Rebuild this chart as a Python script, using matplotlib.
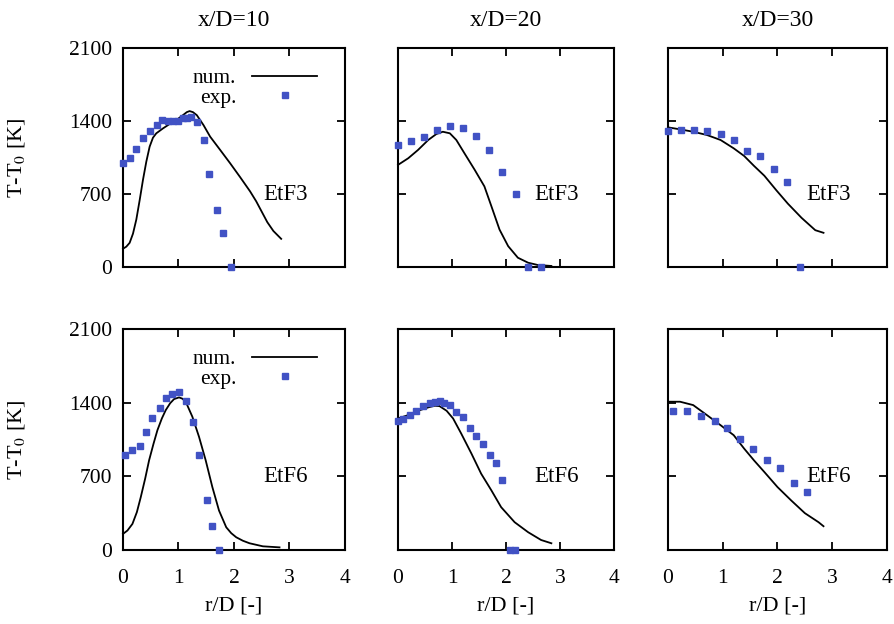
import numpy as np
import matplotlib
matplotlib.use("Agg")
import matplotlib.pyplot as plt

# ── dados ─────────────────────────────────────────────────────────────────────
TITULOS = ["x/D=10", "x/D=20", "x/D=30"]
CASOS = ["EtF3", "EtF6"]

# EtF3, x/D=10
exp_r_3_10 = [0.0, 0.13, 0.24, 0.36, 0.49, 0.61, 0.71, 0.81, 0.90, 0.99, 1.08, 1.16, 1.22, 1.34, 1.46, 1.55, 1.69, 1.81, 1.94]
exp_T_3_10 = [996, 1050, 1129, 1234, 1307, 1361, 1409, 1400, 1400, 1400, 1425, 1431, 1434, 1393, 1218, 894, 544, 328, 0]
num_r_3_10 = [0.0, 0.06, 0.12, 0.18, 0.24, 0.30, 0.36, 0.42, 0.48, 0.54, 0.60, 0.72, 0.84, 0.96, 1.08, 1.15, 1.20, 1.26, 1.33, 1.45, 1.57, 1.75, 1.93, 2.11, 2.29, 2.40, 2.50, 2.60, 2.71, 2.85]
num_T_3_10 = [175, 195, 232, 320, 455, 640, 836, 1010, 1154, 1240, 1282, 1329, 1371, 1409, 1456, 1485, 1495, 1485, 1456, 1361, 1250, 1123, 995, 862, 725, 630, 530, 430, 345, 270]

# EtF3, x/D=20
exp_r_3_20 = [0.0, 0.235, 0.48, 0.72, 0.96, 1.2, 1.45, 1.69, 1.93, 2.18, 2.41, 2.65]
exp_T_3_20 = [1170, 1208, 1250, 1313, 1351, 1335, 1259, 1122, 909, 703, 0, 0]
num_r_3_20 = [0.0, 0.19, 0.37, 0.56, 0.71, 0.83, 0.96, 1.08, 1.23, 1.42, 1.60, 1.73, 1.88, 2.04, 2.22, 2.41, 2.59, 2.84]
num_T_3_20 = [979, 1043, 1122, 1218, 1275, 1297, 1282, 1218, 1091, 932, 773, 582, 359, 200, 89, 41, 19, 10]

# EtF3, x/D=30
exp_r_3_30 = [0.0, 0.235, 0.48, 0.72, 0.97, 1.2, 1.45, 1.68, 1.94, 2.17, 2.42]
exp_T_3_30 = [1304, 1313, 1313, 1307, 1272, 1218, 1116, 1068, 938, 811, 0]
num_r_3_30 = [0.0, 0.22, 0.46, 0.71, 0.96, 1.20, 1.39, 1.57, 1.76, 1.98, 2.19, 2.44, 2.69, 2.84]
num_T_3_30 = [1339, 1320, 1297, 1266, 1218, 1138, 1065, 970, 875, 735, 607, 471, 353, 328]

# EtF6, x/D=10
exp_r_6_10 = [0.03, 0.17, 0.30, 0.41, 0.53, 0.66, 0.77, 0.89, 1.01, 1.14, 1.27, 1.37, 1.51, 1.61, 1.73]
exp_T_6_10 = [906, 948, 992, 1123, 1250, 1345, 1441, 1482, 1504, 1418, 1218, 900, 471, 232, 0]
num_r_6_10 = [0.0, 0.08, 0.17, 0.25, 0.32, 0.40, 0.47, 0.55, 0.62, 0.70, 0.77, 0.85, 0.92, 1.01, 1.07, 1.13, 1.25, 1.37, 1.49, 1.61, 1.73, 1.86, 1.95, 2.04, 2.16, 2.28, 2.52, 2.82]
num_T_6_10 = [153, 185, 248, 360, 502, 680, 852, 1010, 1138, 1250, 1329, 1395, 1434, 1450, 1438, 1409, 1266, 1075, 852, 598, 375, 216, 160, 121, 88, 64, 35, 25]

# EtF6, x/D=20
exp_r_6_20 = [0.0, 0.09, 0.22, 0.34, 0.46, 0.59, 0.68, 0.77, 0.86, 0.96, 1.08, 1.2, 1.33, 1.45, 1.57, 1.7, 1.81, 1.93, 2.07, 2.17]
exp_T_6_20 = [1224, 1247, 1282, 1323, 1367, 1393, 1409, 1412, 1399, 1377, 1313, 1266, 1164, 1081, 1011, 900, 827, 668, 0, 0]
num_r_6_20 = [0.0, 0.19, 0.37, 0.56, 0.68, 0.77, 0.90, 1.02, 1.17, 1.36, 1.54, 1.73, 1.91, 2.16, 2.41, 2.65, 2.84]
num_T_6_20 = [1250, 1282, 1323, 1355, 1371, 1367, 1323, 1250, 1107, 916, 725, 566, 407, 264, 169, 95, 64]

# EtF6, x/D=30
exp_r_6_30 = [0.1, 0.35, 0.6, 0.85, 1.08, 1.31, 1.56, 1.81, 2.05, 2.3, 2.53]
exp_T_6_30 = [1320, 1320, 1272, 1224, 1161, 1059, 957, 859, 779, 636, 550]
num_r_6_30 = [0.0, 0.22, 0.46, 0.71, 0.96, 1.20, 1.39, 1.57, 1.76, 2.00, 2.25, 2.50, 2.75, 2.84]
num_T_6_30 = [1409, 1409, 1377, 1282, 1186, 1091, 964, 852, 741, 598, 471, 350, 264, 226]

PAINEIS = [
    [(num_r_3_10, num_T_3_10, exp_r_3_10, exp_T_3_10),
     (num_r_3_20, num_T_3_20, exp_r_3_20, exp_T_3_20),
     (num_r_3_30, num_T_3_30, exp_r_3_30, exp_T_3_30)],
    [(num_r_6_10, num_T_6_10, exp_r_6_10, exp_T_6_10),
     (num_r_6_20, num_T_6_20, exp_r_6_20, exp_T_6_20),
     (num_r_6_30, num_T_6_30, exp_r_6_30, exp_T_6_30)],
]

# ── estilo ────────────────────────────────────────────────────────────────────
plt.rcParams['font.family'] = ['Liberation Serif', 'DejaVu Serif']
plt.rcParams['mathtext.fontset'] = 'stix'
AZUL = '#4152c4'
FS_TICK = 15.5
FS_LAB = 16
FS_TIT = 17
FS_CASO = 16.5
FS_LEG = 15.5

fig = plt.figure(figsize=(8.95, 6.24), dpi=100)
W_PX, H_PX = 895, 624
COLS = [(123, 345), (398, 614), (668, 887)]
ROWS = [(48, 267), (329, 550)]

for i, (y0, y1) in enumerate(ROWS):
    for j, (x0, x1) in enumerate(COLS):
        ax = fig.add_axes([x0 / W_PX, 1 - y1 / H_PX, (x1 - x0) / W_PX, (y1 - y0) / H_PX])
        nr, nT, er, eT = PAINEIS[i][j]
        ax.plot(nr, nT, color='black', lw=1.3, label='num.', clip_on=False, zorder=2)
        ax.plot(er, eT, ls='none', marker='s', ms=5, color=AZUL, mec=AZUL,
                label='exp.', clip_on=False, zorder=3)
        ax.set_xlim(0, 4)
        ax.set_ylim(0, 2100)
        ax.set_xticks([0, 1, 2, 3, 4])
        ax.set_yticks([0, 700, 1400, 2100])
        ax.tick_params(direction='in', top=True, right=True, length=6, width=1.3,
                       labelsize=FS_TICK)
        ax.tick_params(axis='x', pad=14)
        ax.tick_params(axis='y', pad=8)
        for s in ax.spines.values():
            s.set_linewidth(1.5)
        h_ax = y1 - y0
        w_ax = x1 - x0
        if j != 0:
            ax.tick_params(labelleft=False)
        else:
            ax.set_ylabel(r'T-T$_0$ [K]', fontsize=FS_LAB)
            ax.yaxis.set_label_coords((27 - x0) / w_ax, 0.5)
        if i == 0:
            ax.tick_params(labelbottom=False)
            ax.set_title(TITULOS[j], fontsize=FS_TIT, pad=16)
        else:
            ax.set_xlabel('r/D [-]', fontsize=FS_LAB)
            ax.xaxis.set_label_coords(0.5, -(597 - y1) / h_ax)
        ax.text(2.52, 700, CASOS[i], fontsize=FS_CASO, ha='left', va='center')
        if j == 0:
            ax.legend(loc='upper right', markerfirst=False, frameon=False,
                      fontsize=FS_LEG, handlelength=3.0, handletextpad=0.75,
                      labelspacing=-0.02, borderpad=0, borderaxespad=0,
                      bbox_to_anchor=((317 - x0) / w_ax, 1 - 20 / h_ax))

fig.savefig('out.png', dpi=100)
